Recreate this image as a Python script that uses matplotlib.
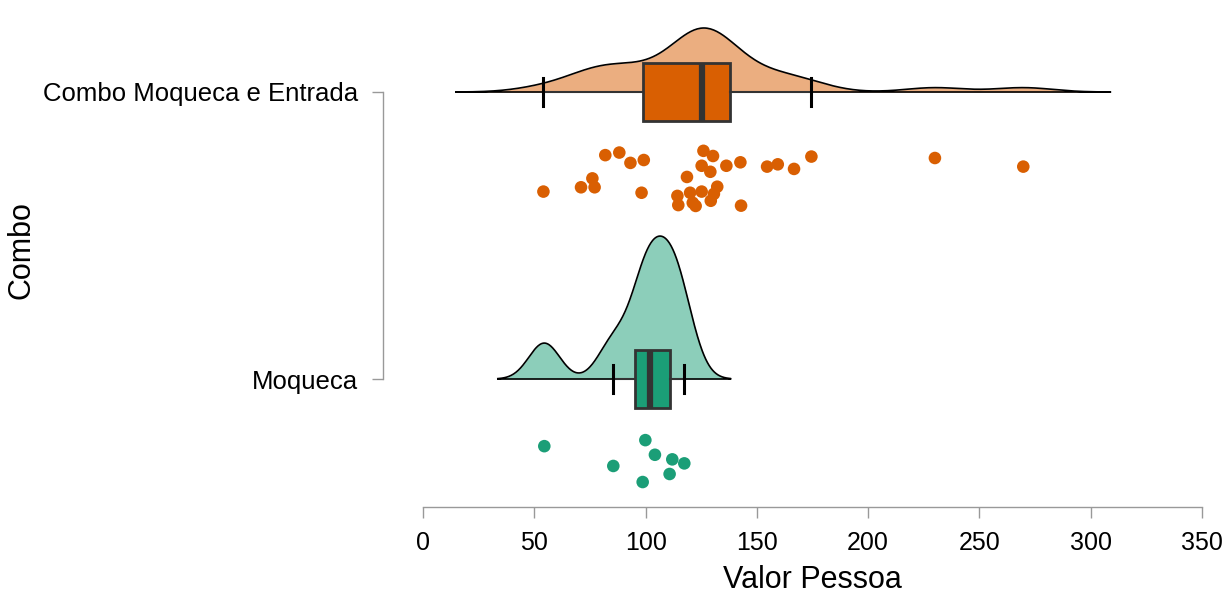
import numpy as np
import matplotlib.pyplot as plt

plt.rcParams['font.family'] = ['Liberation Sans', 'DejaVu Sans']

# grupos (de baixo para cima)
grupos = ["Moqueca", "Combo Moqueca e Entrada"]
cores = ["#1B9E77", "#D95F02"]

# Valor Pessoa - Moqueca
moqueca = [54.5, 85.5, 99.9, 104.2, 98.7, 112.0, 117.4, 110.8]
# deslocamento vertical dos pontos (jitter) - Moqueca
moqueca_jit = [-0.234, -0.303, -0.213, -0.264, -0.359, -0.280, -0.294, -0.331]

# Valor Pessoa - Combo Moqueca e Entrada
combo = [54.1, 71.0, 76.1, 77.1, 81.9, 88.2, 93.2, 99.2, 98.2, 118.6, 114.3,
         114.7, 120.0, 121.2, 122.5, 125.2, 126.0, 130.3, 125.2, 129.1, 129.3,
         130.7, 132.2, 136.3, 142.6, 142.9, 154.6, 159.4, 166.7, 174.5, 230.0,
         269.7]
combo_jit = [-0.347, -0.332, -0.301, -0.332, -0.220, -0.211, -0.247, -0.237,
             -0.351, -0.296, -0.362, -0.394, -0.351, -0.386, -0.397, -0.347,
             -0.205, -0.223, -0.257, -0.278, -0.379, -0.355, -0.330, -0.257,
             -0.245, -0.396, -0.260, -0.252, -0.268, -0.225, -0.230, -0.260]

dados = [moqueca, combo]
jitters = [moqueca_jit, combo_jit]
# altura maxima da densidade de cada grupo (unidades do eixo y)
alturas = [0.498, 0.223]


def bw_nrd0(x):
    # regra de bandwidth do R (bw.nrd0)
    x = np.asarray(x)
    sd = np.std(x, ddof=1)
    iqr = np.subtract(*np.percentile(x, [75, 25]))
    return 0.9 * min(sd, iqr / 1.34) * len(x) ** (-0.2)


def densidade(x):
    x = np.asarray(x)
    bw = bw_nrd0(x)
    grid = np.linspace(x.min() - 3 * bw, x.max() + 3 * bw, 400)
    d = np.exp(-0.5 * ((grid[:, None] - x[None, :]) / bw) ** 2).sum(axis=1)
    d = d / (len(x) * bw * np.sqrt(2 * np.pi))
    return grid, d


fig = plt.figure(figsize=(12.3, 6.03), dpi=100)
ax = fig.add_axes([383 / 1230, 1 - 507 / 603, (1212 - 383) / 1230, (507 - 5) / 603])

for i, x in enumerate(dados):
    grid, d = densidade(x)
    d = d / d.max() * alturas[i]
    ax.fill_between(grid, i, i + d, color=cores[i], alpha=0.5, lw=0, zorder=1)
    ax.plot(np.r_[grid, grid[::-1]], np.r_[i + d, np.full_like(grid, i)],
            color="black", lw=1.2, zorder=2)
    ax.scatter(x, np.array(jitters[i]) + i, s=82, color=cores[i],
               edgecolors="none", zorder=3)

bp = ax.boxplot(dados, positions=[0, 1], vert=False, widths=0.2, showfliers=False,
                patch_artist=True, capwidths=0.1, whis=1.5, zorder=4,
                medianprops=dict(color="#333333", lw=4.5),
                boxprops=dict(edgecolor="#333333", lw=2),
                whiskerprops=dict(color="#333333", lw=1.5),
                capprops=dict(color="black", lw=2.2))
for patch, c in zip(bp["boxes"], cores):
    patch.set_facecolor(c)

ax.set_xlim((383 - 423) / (779 / 350), (1212 - 423) / (779 / 350))
ax.set_ylim((379 - 507) / 287, (379 - 5) / 287)

for s in ["top", "right"]:
    ax.spines[s].set_visible(False)
ax.spines["left"].set_bounds(0, 1)
ax.spines["bottom"].set_bounds(0, 350)
for s in ["left", "bottom"]:
    ax.spines[s].set_color("#999999")
    ax.spines[s].set_linewidth(1)

ax.set_xticks(range(0, 351, 50))
ax.set_yticks([0, 1])
ax.set_yticklabels(grupos)
ax.tick_params(axis="both", length=8, width=1, color="#999999")
ax.tick_params(axis="x", labelsize=18, pad=9)
ax.tick_params(axis="y", labelsize=18.5, pad=10)

fig.text(812.5 / 1230, 1 - 580 / 603, "Valor Pessoa", fontsize=22,
         ha="center", va="center")
fig.text(22 / 1230, 1 - 250 / 603, "Combo", rotation=90, fontsize=22,
         ha="center", va="center")

fig.savefig("out.png", dpi=100)
